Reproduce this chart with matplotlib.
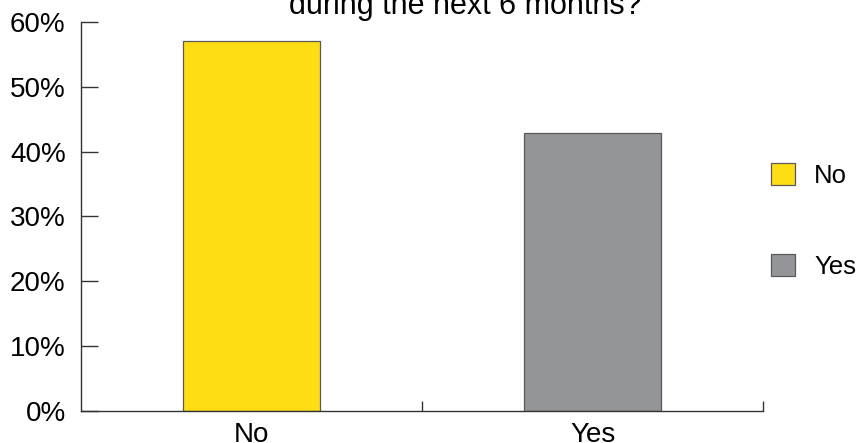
import matplotlib
matplotlib.use("Agg")
import matplotlib.pyplot as plt
from matplotlib.patches import Patch

categories = ["No", "Yes"]
shares = [57.1, 42.9]
bar_colors = ["#FFDD15", "#939598"]
y_ticks = [0, 10, 20, 30, 40, 50, 60]
y_tick_labels = ["0%", "10%", "20%", "30%", "40%", "50%", "60%"]
title_text = "during the next 6 months?"

plt.rcParams["font.family"] = ["Liberation Sans", "DejaVu Sans"]

fig = plt.figure(figsize=(8.61, 4.43), dpi=100)
ax = fig.add_axes([81 / 861, 1 - 411 / 443, (763 - 81) / 861, (411 - 22) / 443])

x = list(range(len(categories)))
ax.bar(x, shares, width=0.4, color=bar_colors, edgecolor="#5a5a5a", linewidth=0.9, zorder=2)

ax.set_xlim(-0.5, len(categories) - 0.5)
ax.set_ylim(0, 60)
ax.set_yticks(y_ticks)
ax.set_yticklabels(y_tick_labels)
ax.set_xticks(x)
ax.set_xticklabels(categories)

# category separators along the baseline
ax.set_xticks([0.5, 1.5], minor=True)
ax.tick_params(axis="x", which="major", length=0, pad=8, labelsize=20)
ax.tick_params(axis="x", which="minor", direction="in", length=7, width=1.0, color="#333333")
ax.tick_params(axis="y", direction="in", length=12, width=1.0, color="#333333", pad=11, labelsize=20)

for side in ("top", "right"):
    ax.spines[side].set_visible(False)
for side in ("left", "bottom"):
    ax.spines[side].set_color("#333333")
    ax.spines[side].set_linewidth(1.0)

fig.text(465 / 861, 1 - 14 / 443, title_text, ha="center", va="baseline", fontsize=22)

handles = [Patch(facecolor=c, edgecolor="#5a5a5a", linewidth=0.9) for c in bar_colors]
fig.legend(handles, categories, loc="center left", bbox_to_anchor=(748 / 861, 1 - 221 / 443),
           frameon=False, fontsize=18.5, handlelength=0.92, handleheight=0.92,
           labelspacing=2.6, handletextpad=0.75)

fig.savefig("out.png", dpi=100)
